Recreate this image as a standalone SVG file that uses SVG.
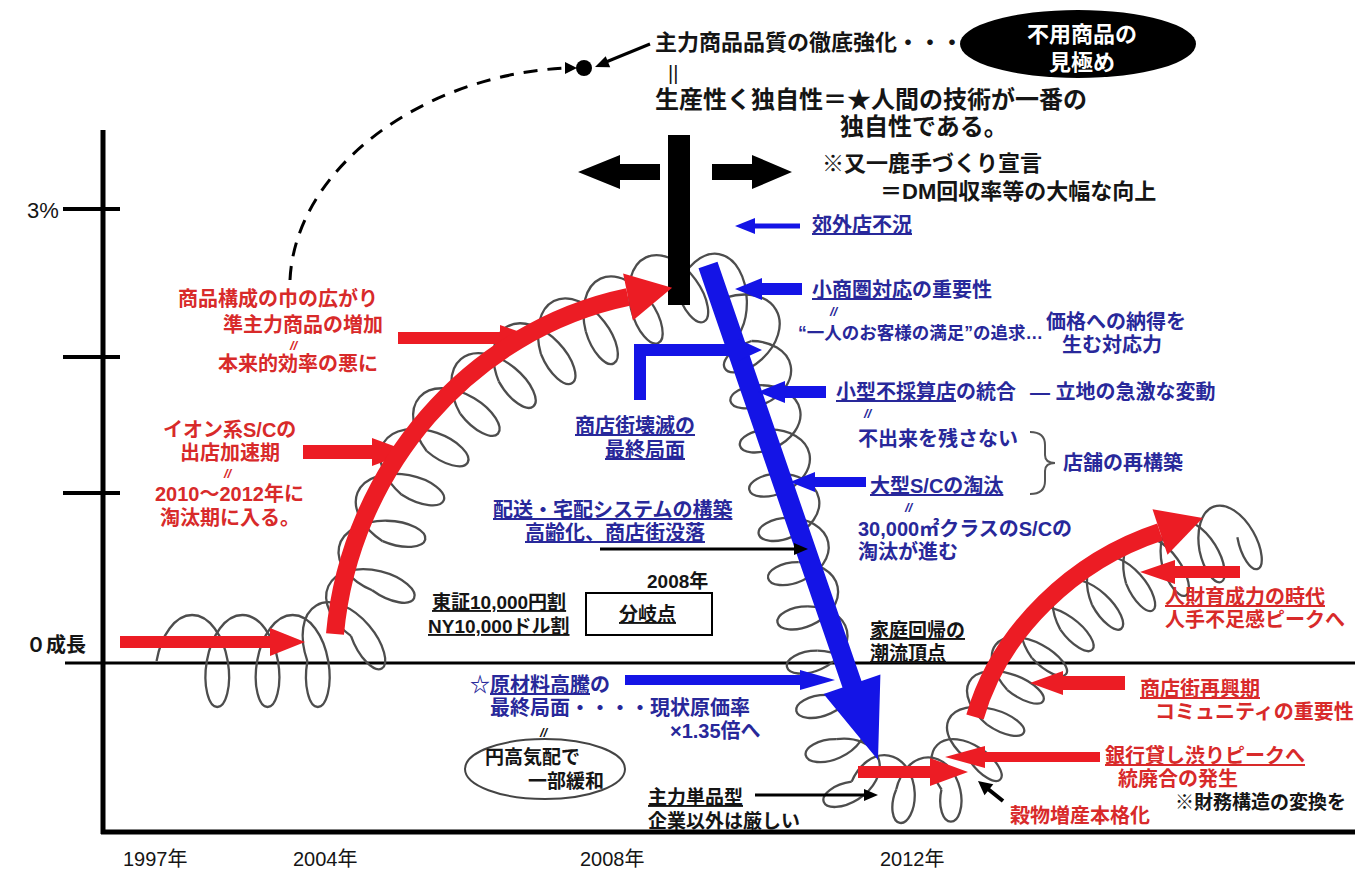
<svg xmlns="http://www.w3.org/2000/svg" width="1369" height="871" viewBox="0 0 1369 871">
<defs>
<style>
.t{font-family:"Liberation Sans","Noto Sans CJK JP","Noto Sans CJK SC",sans-serif;font-weight:700}
.n{font-family:"Liberation Sans","Noto Sans CJK JP",sans-serif}
.k{fill:#151515}
.b{fill:#28289a}
.r{fill:#d82a2a}
.u{text-decoration:underline}
.coil{fill:none;stroke:#4d4d4d;stroke-width:2.3}
.red{fill:#ec1c24}
.redl{fill:none;stroke:#ec1c24;stroke-width:18}
.blu{fill:#1414e6}
.blk{fill:#000}
.ax{stroke:#000;fill:none}
</style>
<path id="loop" vector-effect="non-scaling-stroke" d="M-10.43,0 C-8.34,-12.04 -3.76,-24.01 2.59,-32.53 C8.94,-41.05 17.02,-46 25.13,-46 C33.25,-46 41.33,-41.05 47.68,-32.53 C54.03,-24.01 58.61,-12.04 60.70,0 C62.79,12.04 62.41,24.01 60.25,32.53 C58.09,41.05 54.20,46 50.27,46 C46.34,46 42.45,41.05 40.29,32.53 C38.13,24.01 37.75,12.04 39.84,0"/>
</defs>
<rect width="1369" height="871" fill="#fff"/>

<g id="axes" class="ax">
<line x1="103" y1="130" x2="103" y2="834" stroke-width="5"/>
<line x1="101" y1="832" x2="1355" y2="832" stroke-width="5"/>
<line x1="63" y1="209" x2="120" y2="209" stroke-width="4"/>
<line x1="63" y1="357" x2="120" y2="357" stroke-width="4"/>
<line x1="63" y1="493" x2="120" y2="493" stroke-width="4"/>
<line x1="65" y1="663" x2="1355" y2="663" stroke-width="3"/>
</g>

<g id="coil" class="coil">
<use href="#loop" transform="translate(167,661)"/>
<use href="#loop" transform="translate(217.27,661)"/>
<use href="#loop" transform="translate(267.54,661)"/>
<use href="#loop" transform="translate(316.4,655.8) rotate(-30) scale(1,0.95)"/>
<use href="#loop" transform="translate(355.3,626.4) rotate(-65) scale(1,0.9)"/>
<use href="#loop" transform="translate(374.3,580.1) rotate(-78) scale(1,0.9)"/>
<use href="#loop" transform="translate(386.5,531.5) rotate(-68) scale(1,0.9)"/>
<use href="#loop" transform="translate(406.7,485.5) rotate(-60) scale(1,0.9)"/>
<use href="#loop" transform="translate(433.6,443.3) rotate(-48) scale(1,0.9)"/>
<use href="#loop" transform="translate(468.2,407.0) rotate(-40) scale(1,0.9)"/>
<use href="#loop" transform="translate(507.5,375.7) rotate(-33) scale(1,0.9)"/>
<use href="#loop" transform="translate(550.2,349.3) rotate(-27) scale(1,0.9)"/>
<use href="#loop" transform="translate(595.2,326.8) rotate(-25) scale(1,0.9)"/>
<use href="#loop" transform="translate(640.7,305.5) rotate(-25) scale(1,0.9)"/>
<use href="#loop" transform="translate(687.1,290.5) rotate(10) scale(1,0.9)"/>
<use href="#loop" transform="translate(731.6,306.5) rotate(60) scale(1,0.8)"/>
<use href="#loop" transform="translate(753.5,350.2) rotate(78) scale(0.9,0.72)"/>
<use href="#loop" transform="translate(762.9,394.4) rotate(78) scale(0.9,0.72)"/>
<use href="#loop" transform="translate(772.3,438.6) rotate(78) scale(0.9,0.72)"/>
<use href="#loop" transform="translate(781.7,482.9) rotate(78) scale(0.9,0.72)"/>
<use href="#loop" transform="translate(791.1,527.1) rotate(78) scale(0.9,0.72)"/>
<use href="#loop" transform="translate(800.5,571.4) rotate(78) scale(0.9,0.72)"/>
<use href="#loop" transform="translate(809.9,615.6) rotate(78) scale(0.9,0.72)"/>
<use href="#loop" transform="translate(819.3,659.9) rotate(78) scale(0.9,0.72)"/>
<use href="#loop" transform="translate(828.7,704.1) rotate(78) scale(0.9,0.72)"/>
<use href="#loop" transform="translate(839.4,748.0) rotate(70) scale(0.9,0.72)"/>
<use href="#loop" transform="translate(860.9,783.3) rotate(10) scale(0.9,0.7)"/>
<use href="#loop" transform="translate(905.6,789.5) scale(0.9,0.7)"/>
<use href="#loop" transform="translate(947.4,783.6) rotate(-45) scale(0.8,0.75)"/>
<use href="#loop" transform="translate(973.5,753.5) rotate(-65) scale(0.8,0.8)"/>
<use href="#loop" transform="translate(991.2,717.4) rotate(-60) scale(0.8,0.8)"/>
<use href="#loop" transform="translate(1012.3,683.2) rotate(-52) scale(0.8,0.8)"/>
<use href="#loop" transform="translate(1037.8,652.2) rotate(-45) scale(0.8,0.8)"/>
<use href="#loop" transform="translate(1066.9,624.5) rotate(-38) scale(0.8,0.8)"/>
<use href="#loop" transform="translate(1099.1,600.5) rotate(-32) scale(0.8,0.8)"/>
<use href="#loop" transform="translate(1133.6,580.0) rotate(-26) scale(0.8,0.8)"/>
<use href="#loop" transform="translate(1170.0,562.9) rotate(-22) scale(0.8,0.8)"/>
<use href="#loop" transform="translate(1207.4,548.1) rotate(-20) scale(0.8,0.8)"/>
</g>

<g id="connectors">
<path d="M290,280 C295,170 420,75 566,68" fill="none" stroke="#000" stroke-width="3" stroke-dasharray="14 10"/>
<polygon class="blk" points="577,68 565,62 565,74"/>
<circle class="blk" cx="584" cy="68" r="8"/>
<line x1="650" y1="44" x2="606" y2="62" stroke="#000" stroke-width="3"/>
<polygon class="blk" points="595,67 610.2,67.3 605.7,56.2"/>
<rect class="blk" x="668" y="135" width="22" height="170"/>
<polygon class="blk" points="660,164 620,164 620,155 578,172 620,189 620,180 660,180"/>
<polygon class="blk" points="712,164 752,164 752,155 792,172 752,189 752,180 712,180"/>
<polygon class="red" points="120,636 270,636 270,628 305,642 270,656 270,648 120,648"/>
<polygon class="red" points="398,332 500,332 500,325 537,338 500,351 500,344 398,344"/>
<polygon class="red" points="303,445 372,445 372,438 410,452 372,466 372,459 303,459"/>
<path class="redl" d="M335,634 C350,470 470,330 628,297"/>
<polygon class="red" points="632.9,320.5 672.1,287.8 623.1,273.5"/>
<path class="redl" d="M975,717 C1000,630 1075,560 1160,532"/>
<polygon class="red" points="1167.5,554.8 1202.8,517.9 1152.5,509.2"/>
<polygon class="red" points="1240,566 1175,566 1175,560 1140,572 1175,584 1175,578 1240,578"/>
<polygon class="red" points="1125,676 1063,676 1063,671 1030,683 1063,695 1063,690 1125,690"/>
<polygon class="red" points="1100,752 985,752 985,746 945,757 985,768 985,762 1100,762"/>
<polygon class="red" points="858,766 930,766 930,758 968,772 930,786 930,778 858,778"/>
<polygon class="blu" points="717.5,261.8 861.5,681.1 880.4,674.6 878,760 823.6,694.0 842.5,687.5 698.5,268.3"/>
<polygon class="blu" points="634,400 634,344 738,344 738,339 762,350 738,361 738,356 646,356 646,400"/>
<polygon class="blu" points="800,223.5 755,223.5 755,218 735,226 755,234 755,228.5 800,228.5"/>
<polygon class="blu" points="802,283 762,283 762,278 735,289 762,300 762,295 802,295"/>
<polygon class="blu" points="826,386 785,386 785,381 758,392 785,403 785,398 826,398"/>
<polygon class="blu" points="866,477 815,477 815,472 790,482 815,492 815,487 866,487"/>
<polygon class="blu" points="625,675 800,675 800,670 835,680 800,690 800,685 625,685"/>
<line x1="600" y1="549" x2="795" y2="549" stroke="#000" stroke-width="3"/>
<polygon class="blk" points="808,549 794,543 794,555"/>
<line x1="755" y1="795" x2="865" y2="795" stroke="#000" stroke-width="3"/>
<polygon class="blk" points="878,795 864,789 864,801"/>
<line x1="1003" y1="801" x2="988" y2="789" stroke="#000" stroke-width="4"/>
<polygon class="blk" points="978,781 993.3,784.3 984.5,795.3"/>
<path d="M1030,432 Q1045,432 1045,445 L1045,455 Q1045,463 1055,463 Q1045,463 1045,471 L1045,481 Q1045,494 1030,494" fill="none" stroke="#555" stroke-width="2"/>
</g>

<g id="top-note">
<ellipse class="blk" cx="1078" cy="44" rx="118" ry="34"/>
<text class="t" fill="#fff" x="1082" y="42" font-size="22" text-anchor="middle">不用商品の</text>
<text class="t" fill="#fff" x="1082" y="70" font-size="22" text-anchor="middle">見極め</text>
<text class="t k" x="655" y="50" font-size="22">主力商品品質の徹底強化・・・</text>
<text class="n k" x="668" y="80" font-size="20">||</text>
<text class="t k" x="655" y="108" font-size="24">生産性く独自性＝★人間の技術が一番の</text>
<text class="t k" x="840" y="135" font-size="24">独自性である。</text>
<text class="t k" x="822" y="171" font-size="22">※又一鹿手づくり宣言</text>
<text class="t k" x="880" y="199" font-size="22">＝DM回収率等の大幅な向上</text>
</g>

<g id="axis-labels">
<text class="n k" x="27" y="218" font-size="22">3%</text>
<text class="t k" x="26" y="652" font-size="20">０成長</text>
<text class="n k" x="123" y="866" font-size="20">1997年</text>
<text class="n k" x="293" y="866" font-size="20">2004年</text>
<text class="n k" x="580" y="866" font-size="20">2008年</text>
<text class="n k" x="880" y="866" font-size="20">2012年</text>
</g>

<g id="red-labels" class="t r" font-size="20">
<text x="178" y="306">商品構成の巾の広がり</text>
<text x="223" y="332">準主力商品の増加</text>
<text class="n" x="290" y="350" font-size="13" font-style="italic">//</text>
<text x="218" y="371">本来的効率の悪に</text>
<text x="163" y="437">イオン系S/Cの</text>
<text x="180" y="460">出店加速期</text>
<text class="n" x="224" y="478" font-size="13" font-style="italic">//</text>
<text x="155" y="501">2010～2012年に</text>
<text x="160" y="525">淘汰期に入る。</text>
<text class="u" x="1165" y="604">人財育成力の時代</text>
<text x="1165" y="627">人手不足感ピークへ</text>
<text class="u" x="1140" y="696">商店街再興期</text>
<text x="1155" y="719">コミュニティの重要性</text>
<text class="u" x="1105" y="763">銀行貸し渋りピークへ</text>
<text x="1118" y="786">統廃合の発生</text>
<text x="1010" y="823">穀物増産本格化</text>
</g>

<g id="blue-labels" class="t b" font-size="20">
<text class="u" x="812" y="232">郊外店不況</text>
<text x="812" y="297"><tspan class="u">小商圏対応</tspan>の重要性</text>
<text class="n" x="830" y="316" font-size="13" font-style="italic">//</text>
<text x="798" y="339" font-size="17.5">“一人のお客様の満足”の追求…</text>
<text x="1046" y="329">価格への納得を</text>
<text x="1062" y="352">生む対応力</text>
<text x="836" y="399"><tspan class="u">小型不採算店</tspan>の統合</text>
<text x="1030" y="399">― 立地の急激な変動</text>
<text class="n" x="864" y="418" font-size="13" font-style="italic">//</text>
<text x="858" y="446">不出来を残さない</text>
<text x="1063" y="470">店舗の再構築</text>
<text class="u" x="870" y="493">大型S/Cの淘汰</text>
<text class="n" x="905" y="512" font-size="13" font-style="italic">//</text>
<text x="858" y="536">30,000㎡クラスのS/Cの</text>
<text x="858" y="559">淘汰が進む</text>
<text class="u" x="575" y="433">商店街壊滅の</text>
<text class="u" x="605" y="457">最終局面</text>
<text class="u" x="493" y="517">配送・宅配システムの構築</text>
<text class="u" x="525" y="540">高齢化、商店街没落</text>
<text x="470" y="692">☆<tspan class="u">原材料高騰</tspan>の</text>
<text x="490" y="715">最終局面・・・・現状原価率</text>
<text x="670" y="738">×1.35倍へ</text>
</g>

<g id="black-labels" class="t k" font-size="19">
<text class="u" x="432" y="609">東証10,000円割</text>
<text class="u" x="428" y="633">NY10,000ドル割</text>
<text class="n" x="647" y="588" font-size="19">2008年</text>
<rect x="586" y="593" width="126" height="42" fill="none" stroke="#000" stroke-width="2"/>
<text class="u" x="619" y="621">分岐点</text>
<text class="u" x="870" y="637">家庭回帰の</text>
<text class="u" x="870" y="660">潮流頂点</text>
<text class="n" x="540" y="737" font-size="13" font-style="italic">//</text>
<ellipse cx="545" cy="769" rx="80" ry="30" fill="none" stroke="#444" stroke-width="2"/>
<text x="485" y="764">円高気配で</text>
<text x="528" y="788">一部緩和</text>
<text class="u" x="648" y="804">主力単品型</text>
<text x="648" y="828">企業以外は厳しい</text>
<text x="1175" y="809">※財務構造の変換を</text>
</g>
</svg>
